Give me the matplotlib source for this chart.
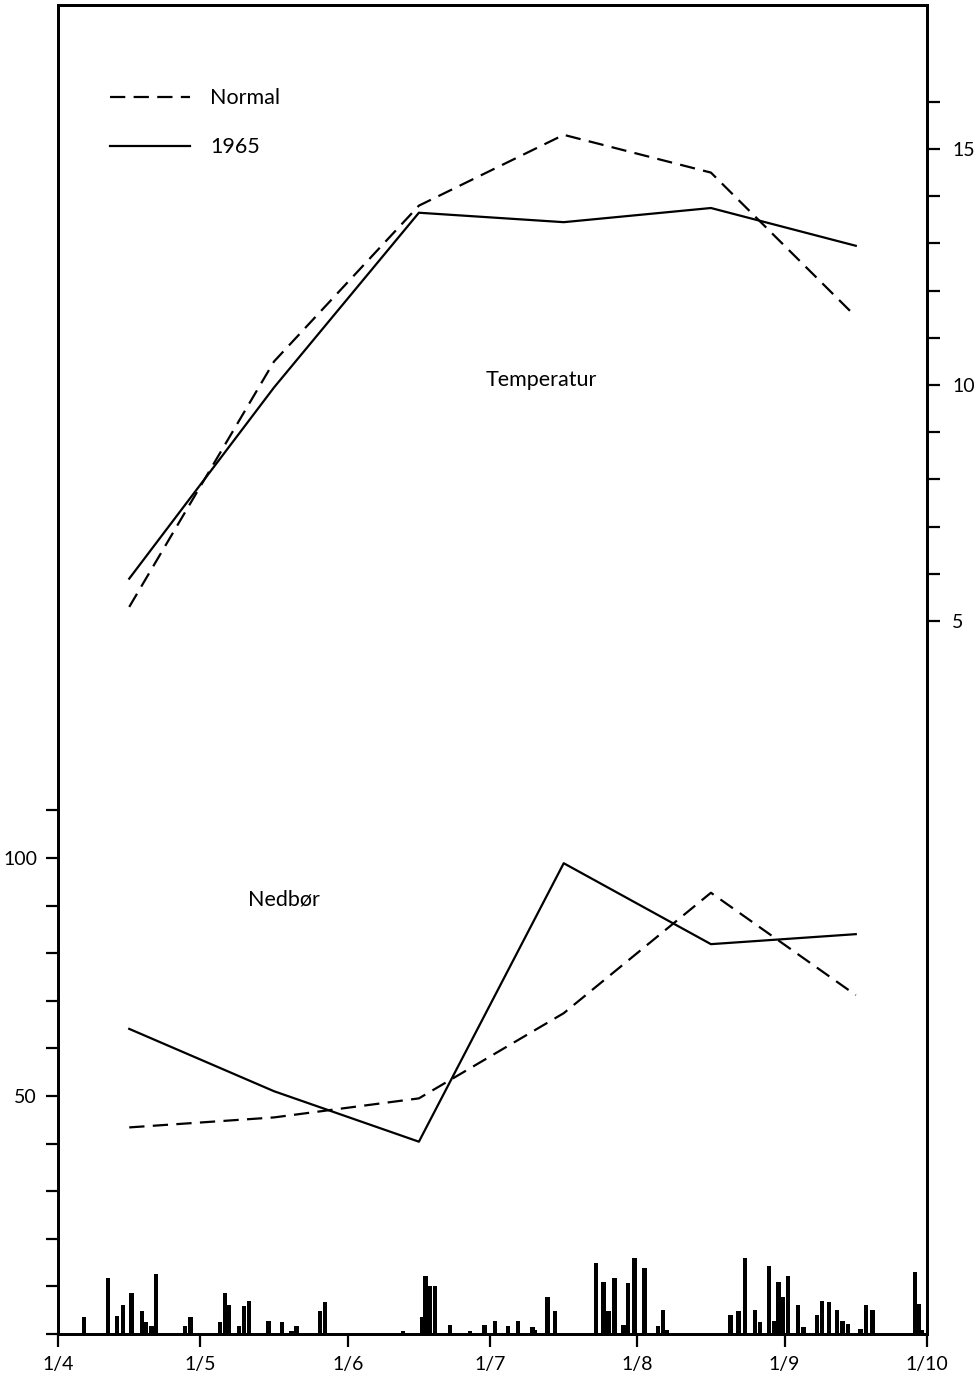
import numpy as np
import matplotlib
matplotlib.use("Agg")
import matplotlib.pyplot as plt

plt.rcParams['font.family'] = ['Lato', 'DejaVu Sans']
plt.rcParams['lines.scale_dashes'] = False

# ---- data ----
month_labels = ["1/4", "1/5", "1/6", "1/7", "1/8", "1/9", "1/10"]
month_days = [30, 31, 30, 31, 31, 30]

temp_normal = [5.3, 10.5, 13.8, 15.3, 14.5, 11.45]
temp_1965 = [5.9, 9.95, 13.65, 13.45, 13.75, 12.95]

prec_normal = [43.4, 45.5, 49.5, 67.4, 92.7, 71.2]
prec_1965 = [64.1, 51.0, 40.4, 98.9, 81.9, 84.0]

# daily precipitation 1965 (days after 1 April, mm)
daily_day = [5.5, 10.5, 12.5, 13.7, 15.5, 17.7, 18.6, 19.7, 20.7, 26.7, 27.9,
             34.1, 35.1, 36.0, 38.1, 39.2, 40.2, 44.3, 47.2, 49.2, 50.2, 55.2,
             56.2, 63.6, 72.7, 76.6, 77.4, 78.4, 79.4, 82.5, 86.8, 89.8, 92.0,
             94.8, 96.9, 99.9, 100.5, 103.1, 104.7, 113.3, 114.9, 115.9, 117.2,
             119.1, 120.1, 121.4, 123.5, 126.4, 127.4, 128.2, 141.6, 143.3,
             144.6, 146.8, 147.9, 149.8, 150.9, 151.7, 152.7, 153.8, 155.8,
             157.0, 159.8, 160.9, 162.3, 164.1, 165.2, 166.4, 169.0, 170.2,
             171.5, 180.4, 181.3, 182.0]
daily_mm = [3.5, 11.7, 3.7, 6.0, 8.7, 4.8, 2.5, 1.6, 12.6, 1.6, 3.5,
            2.6, 8.7, 6.0, 1.7, 5.8, 6.9, 2.7, 2.6, 0.7, 1.6, 4.8,
            6.7, 0.2, 0.7, 3.5, 12.1, 10.1, 10.1, 1.8, 0.7, 1.8, 2.7,
            1.6, 2.7, 1.4, 0.9, 7.7, 4.8, 14.9, 11.0, 4.8, 11.7,
            1.8, 10.8, 16.0, 13.8, 1.6, 5.0, 0.9, 3.9, 4.8,
            16.0, 5.1, 2.5, 14.2, 2.8, 11.0, 7.8, 12.1, 6.0,
            1.4, 3.9, 7.0, 6.7, 5.0, 2.8, 2.1, 1.1, 6.0,
            5.0, 13.1, 6.4, 0.9]

# ---- derived x positions (month starts and mid-months) ----
month_start = np.concatenate([[0], np.cumsum(month_days)])
month_mid = month_start[:-1] + np.array(month_days) / 2.0

W, H = 978, 1379
fig = plt.figure(figsize=(W / 100, H / 100), dpi=100)
left, right, bottom, top = 58, 927, 1334, 5
ax = fig.add_axes([left / W, (H - bottom) / H, (right - left) / W, (bottom - top) / H])

lw_line = 1.6
dash = (11, 6)
fs_tick = 14
fs_text = 15.5

# precipitation axis
ax.bar(daily_day, daily_mm, width=0.9, color='black', linewidth=0)
ax.plot(month_mid, prec_normal, color='black', lw=lw_line, dashes=dash)
ax.plot(month_mid, prec_1965, color='black', lw=lw_line)
ax.set_xlim(0, month_start[-1])
ax.set_ylim(0, 279.2)

ax.set_yticks(np.arange(0, 111, 10))
ax.set_yticklabels(["" if v not in (50, 100) else str(v) for v in range(0, 111, 10)])
ax.set_xticks(month_start)
ax.set_xticklabels(month_labels)
ax.tick_params(axis='both', direction='out', length=9, width=1.6, labelsize=fs_tick, pad=6)
ax.tick_params(axis='x', pad=7)

# temperature axis
ax2 = ax.twinx()
ax2.plot(month_mid, temp_normal, color='black', lw=lw_line, dashes=dash, label='Normal')
ax2.plot(month_mid, temp_1965, color='black', lw=lw_line, label='1965')
ax2.set_ylim(-10.1, 18.05)
ax2.set_yticks(np.arange(5, 17, 1))
ax2.set_yticklabels([str(v) if v in (5, 10, 15) else "" for v in range(5, 17)])
ax2.tick_params(axis='y', direction='out', length=9, width=1.6, labelsize=fs_tick, pad=9)

for a in (ax, ax2):
    for s in a.spines.values():
        s.set_linewidth(2.0)

ax2.text(0.556, (1334 - 380) / 1329, "Temperatur", transform=ax.transAxes,
         ha='center', va='center', fontsize=fs_text)
ax2.text(0.26, (1334 - 900) / 1329, "Nedbør", transform=ax.transAxes,
         ha='center', va='center', fontsize=fs_text)

leg = ax2.legend(loc='upper left', bbox_to_anchor=(0.06, 0.9375), frameon=False,
                 fontsize=fs_text, handlelength=3.7, handletextpad=0.93,
                 labelspacing=1.35, borderpad=0, borderaxespad=0)

fig.savefig("out.png", dpi=100, facecolor='white')
